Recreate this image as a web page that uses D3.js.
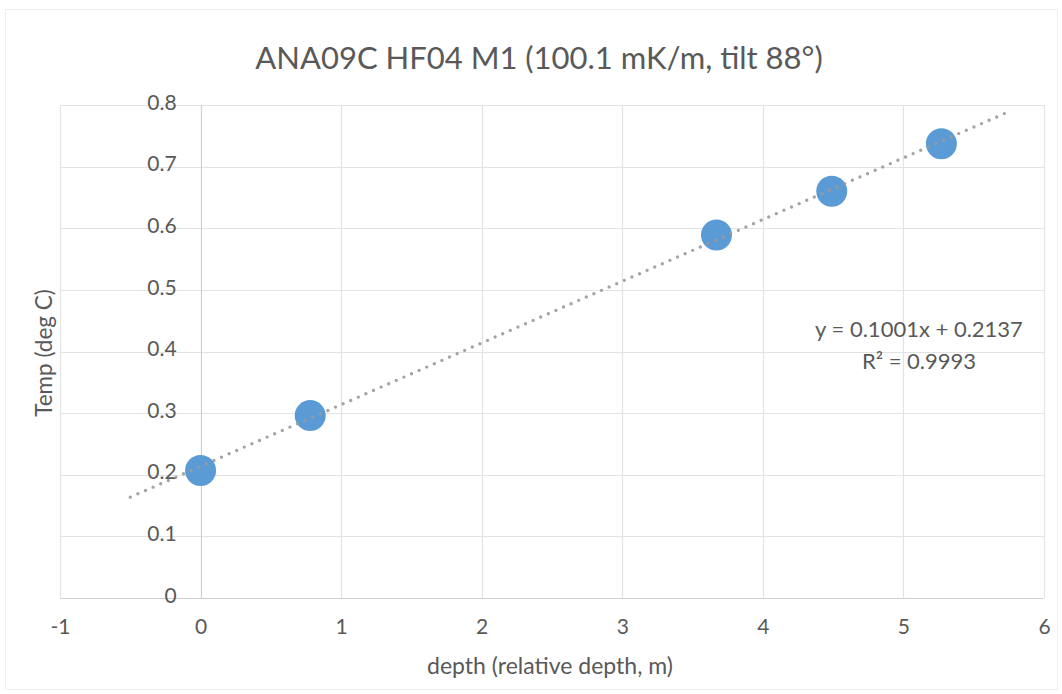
<!DOCTYPE html>
<html>
<head>
<meta charset="utf-8">
<script src="https://cdn.jsdelivr.net/npm/d3@7"></script>
<style>
  html, body { margin: 0; padding: 0; background: #ffffff; }
  svg { display: block; }
  text { font-family: Lato, "Open Sans", sans-serif; fill: #595959; }
</style>
</head>
<body>
<svg id="chart" width="1062" height="694"></svg>
<script>
// Measured temperatures against relative depth
const depth = [0, 0.78, 3.67, 4.49, 5.27];
const temp = [0.207, 0.296, 0.589, 0.660, 0.737];

// Linear fit as reported on the chart
const fitSlope = 0.1001;
const fitIntercept = 0.2137;
const fitR2 = 0.9993;
const fitRange = [-0.5, 5.77];

const xTicks = [-1, 0, 1, 2, 3, 4, 5, 6];
const yTicks = [0, 0.1, 0.2, 0.3, 0.4, 0.5, 0.6, 0.7, 0.8];

const title = "ANA09C HF04 M1 (100.1 mK/m, tilt 88°)";
const xTitle = "depth (relative depth, m)";
const yTitle = "Temp (deg C)";

const svg = d3.select("#chart");

// faint chart-area border
svg.append("rect")
  .attr("x", 5.5).attr("y", 9.5)
  .attr("width", 1052).attr("height", 680)
  .attr("fill", "none")
  .attr("stroke", "#f0f0f0");

const plot = { left: 60, right: 1044, top: 105, bottom: 598 };

const x = d3.scaleLinear().domain([-1, 6]).range([plot.left, plot.right]);
const y = d3.scaleLinear().domain([0, 0.8]).range([plot.bottom, plot.top]);

// gridlines
const grid = svg.append("g");
grid.selectAll("line.h").data(yTicks).join("line")
  .attr("x1", plot.left).attr("x2", plot.right)
  .attr("y1", d => Math.round(y(d)) + 0.5).attr("y2", d => Math.round(y(d)) + 0.5)
  .attr("stroke", "#e3e3e3").attr("stroke-width", 1.2);
grid.selectAll("line.v").data(xTicks).join("line")
  .attr("y1", plot.top).attr("y2", plot.bottom)
  .attr("x1", d => Math.round(x(d)) + 0.5).attr("x2", d => Math.round(x(d)) + 0.5)
  .attr("stroke", d => d === 0 ? "#d0d0d0" : "#e3e3e3")
  .attr("stroke-width", 1.2);

// x axis line at y = 0
svg.append("line")
  .attr("x1", plot.left).attr("x2", plot.right)
  .attr("y1", Math.round(y(0)) + 0.5).attr("y2", Math.round(y(0)) + 0.5)
  .attr("stroke", "#d0d0d0").attr("stroke-width", 1.2);

// y tick labels sit next to the axis at x = 0
const yAxis = d3.axisLeft(y).tickValues(yTicks)
  .tickFormat(d => d === 0 ? "0" : d.toFixed(1))
  .tickSize(0).tickPadding(24);
const gy = svg.append("g").attr("transform", `translate(${x(0)},0)`).call(yAxis);
gy.select(".domain").remove();
gy.selectAll("text").attr("font-size", 21).attr("fill", "#595959")
  .attr("font-family", "Lato, 'Open Sans', sans-serif").attr("dy", "0.2em");

// x tick labels (plain hyphen for negatives)
const xAxis = d3.axisBottom(x).tickValues(xTicks).tickFormat(d => String(d))
  .tickSize(0).tickPadding(21);
const gx = svg.append("g").attr("transform", `translate(0,${plot.bottom})`).call(xAxis);
gx.select(".domain").remove();
gx.selectAll("text").attr("font-size", 21).attr("fill", "#595959")
  .attr("font-family", "Lato, 'Open Sans', sans-serif");

// markers
svg.append("g").selectAll("circle").data(depth.map((d, i) => [d, temp[i]])).join("circle")
  .attr("cx", d => x(d[0])).attr("cy", d => y(d[1]))
  .attr("r", 15.5)
  .attr("fill", "#5b9bd5");

// dotted trendline
const line = d3.line().x(d => x(d)).y(d => y(fitSlope * d + fitIntercept));
svg.append("path")
  .datum(fitRange)
  .attr("d", line)
  .attr("fill", "none")
  .attr("stroke", "#9a9a9a")
  .attr("stroke-opacity", 0.9)
  .attr("stroke-width", 3.4)
  .attr("stroke-linecap", "round")
  .attr("stroke-dasharray", "0,8.3");

// equation label
svg.append("text")
  .attr("x", 919).attr("y", 337)
  .attr("text-anchor", "middle").attr("font-size", 22)
  .text(`y = ${fitSlope}x + ${fitIntercept}`);
svg.append("text")
  .attr("x", 919).attr("y", 369)
  .attr("text-anchor", "middle").attr("font-size", 22)
  .text(`R² = ${fitR2}`);

// titles
svg.append("text")
  .attr("x", 539).attr("y", 69)
  .attr("text-anchor", "middle").attr("font-size", 31)
  .text(title);
svg.append("text")
  .attr("x", 550).attr("y", 674)
  .attr("text-anchor", "middle").attr("font-size", 23)
  .text(xTitle);
svg.append("text")
  .attr("transform", "translate(52,353) rotate(-90)")
  .attr("text-anchor", "middle").attr("font-size", 22.5)
  .text(yTitle);
</script>
</body>
</html>
